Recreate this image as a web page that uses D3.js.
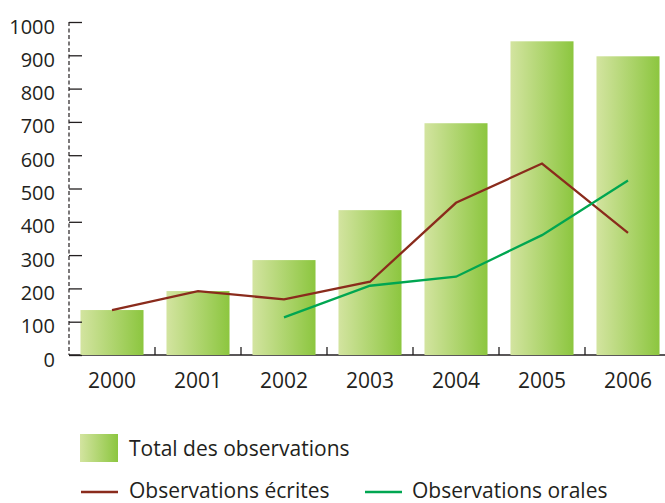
<!DOCTYPE html>
<html>
<head>
<meta charset="utf-8">
<script src="https://d3js.org/d3.v7.min.js"></script>
<style>
  body { margin: 0; background: #fff; }
  svg text { font-family: "Open Sans", "Noto Sans", sans-serif; fill: #231f20; }
</style>
</head>
<body>
<div id="chart"></div>
<script>
// data
const years = ["2000", "2001", "2002", "2003", "2004", "2005", "2006"]
const totalObs = [135, 192, 285, 435, 696, 942, 897]
const ecrites = [135, 192, 167, 220, 457, 575, 367]
const orales = [null, null, 113, 208, 235, 360, 524]
const yTicks = [0, 100, 200, 300, 400, 500, 600, 700, 800, 900, 1000]

const w = 665
const h = 503
const ink = "#231f20"

const svg = d3.select("#chart").append("svg")
    .attr("width", w)
    .attr("height", h)

// gradient for bars
const grad = svg.append("defs").append("linearGradient")
    .attr("id", "barGrad")
    .attr("x1", "0%").attr("x2", "100%")
    .attr("y1", "0%").attr("y2", "0%")
grad.append("stop").attr("offset", "0%").attr("stop-color", "#d3e4a0")
grad.append("stop").attr("offset", "100%").attr("stop-color", "#8cc63f")

// scales
const x = d3.scaleBand()
    .domain(years)
    .range([69, 671])
    .paddingInner(0.267)
    .paddingOuter(0.1335)

const y = d3.scaleLinear()
    .domain([0, 1000])
    .range([355, 22])

// x baseline + ticks between bars
svg.append("line")
    .attr("x1", 69).attr("x2", w)
    .attr("y1", y(0)).attr("y2", y(0))
    .attr("stroke", ink).attr("stroke-width", 1.3)

const step = x.step()
svg.selectAll(".xsep")
    .data(years.slice(1))
    .enter()
    .append("line")
    .attr("class", "xsep")
    .attr("x1", d => x(d) - step * x.paddingInner() / 2)
    .attr("x2", d => x(d) - step * x.paddingInner() / 2)
    .attr("y1", y(0)).attr("y2", y(0) - 8)
    .attr("stroke", ink).attr("stroke-width", 1.3)

// bars
svg.selectAll(".bar")
    .data(totalObs)
    .enter()
    .append("rect")
    .attr("class", "bar")
    .attr("x", (d, i) => x(years[i]))
    .attr("y", d => y(d))
    .attr("width", x.bandwidth())
    .attr("height", d => y(0) - y(d))
    .attr("fill", "url(#barGrad)")

// x labels
const xAxis = d3.axisBottom(x).tickSize(0).tickPadding(18)
const gx = svg.append("g")
    .attr("transform", "translate(0," + y(0) + ")")
    .call(xAxis)
gx.select(".domain").remove()
gx.selectAll("text")
    .attr("font-size", 21)
    .attr("fill", ink)
    .style("font-family", null)

// y axis (dashed line, ticks pointing right)
svg.append("line")
    .attr("x1", 69).attr("x2", 69)
    .attr("y1", y(1000)).attr("y2", y(0))
    .attr("stroke", ink).attr("stroke-width", 1.2)
    .attr("stroke-dasharray", "4,2.5")

const yAxis = d3.axisLeft(y)
    .tickValues(yTicks)
    .tickFormat(d3.format("d"))
    .tickSizeInner(-13)
    .tickSizeOuter(0)
    .tickPadding(14)
const gy = svg.append("g")
    .attr("transform", "translate(69,0)")
    .call(yAxis)
gy.select(".domain").remove()
gy.selectAll("line").attr("stroke", ink).attr("stroke-width", 1.3)
gy.selectAll("text")
    .attr("font-size", 20)
    .attr("fill", ink)
    .attr("dy", "0.55em")

// lines
const line = d3.line()
    .defined(d => d != null)
    .x((d, i) => x(years[i]) + x.bandwidth() / 2)
    .y(d => y(d))

svg.append("path")
    .datum(ecrites)
    .attr("d", line)
    .attr("fill", "none")
    .attr("stroke", "#8a2b1c")
    .attr("stroke-width", 2.3)

svg.append("path")
    .datum(orales)
    .attr("d", line)
    .attr("fill", "none")
    .attr("stroke", "#00a651")
    .attr("stroke-width", 2.3)

// legend
const legend = svg.append("g")
legend.append("rect")
    .attr("x", 80).attr("y", 434)
    .attr("width", 38).attr("height", 28)
    .attr("fill", "url(#barGrad)")
legend.append("text")
    .attr("x", 129).attr("y", 456)
    .attr("font-size", 21)
    .text("Total des observations")

legend.append("line")
    .attr("x1", 81).attr("x2", 118)
    .attr("y1", 492).attr("y2", 492)
    .attr("stroke", "#8a2b1c").attr("stroke-width", 2.3)
legend.append("text")
    .attr("x", 129).attr("y", 498)
    .attr("font-size", 21)
    .text("Observations écrites")

legend.append("line")
    .attr("x1", 365).attr("x2", 402)
    .attr("y1", 492).attr("y2", 492)
    .attr("stroke", "#00a651").attr("stroke-width", 2.3)
legend.append("text")
    .attr("x", 412).attr("y", 498)
    .attr("font-size", 21)
    .text("Observations orales")
</script>
</body>
</html>
